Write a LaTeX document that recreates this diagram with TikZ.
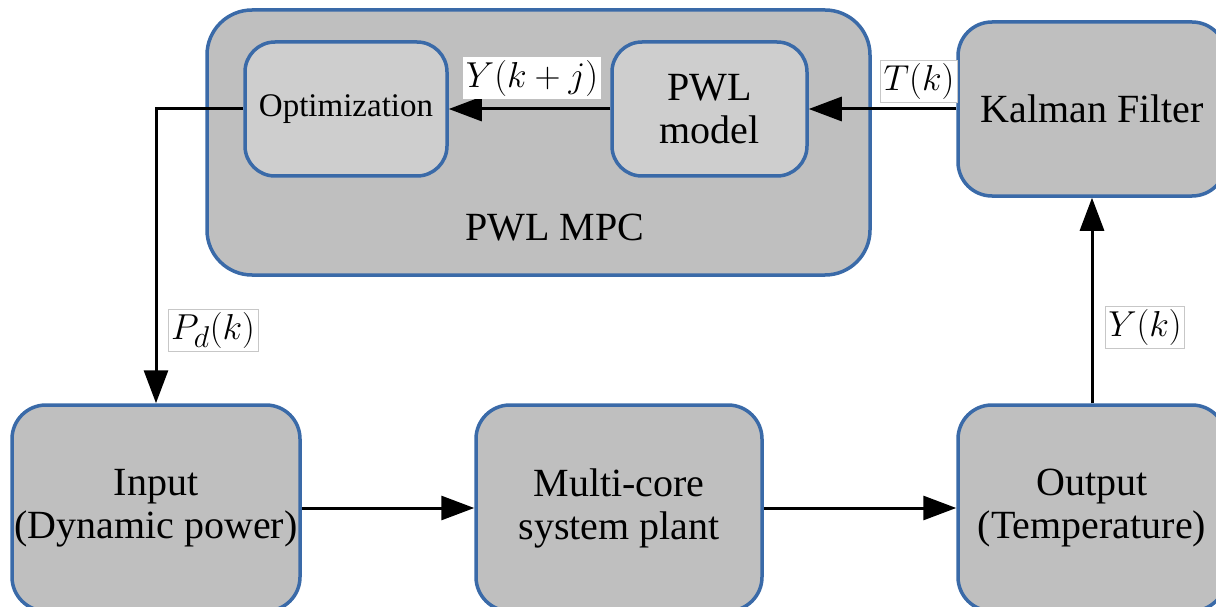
\documentclass[tikz,border=0pt]{standalone}
\usepackage{fontspec}
\setmainfont{LiberationSerif}[Extension=.ttf, UprightFont=*-Regular, ItalicFont=*-Italic, BoldFont=*-Bold]
\newfontfamily\tnr{LiberationSerif}[Extension=.ttf, UprightFont=*-Regular]
\usetikzlibrary{arrows.meta}
\definecolor{bord}{RGB}{58,106,168}
\definecolor{outfill}{RGB}{191,191,191}
\definecolor{infill}{RGB}{206,206,206}
\begin{document}
\begin{tikzpicture}[x=1pt,y=-1pt,
  blk/.style={draw=bord, line width=3.5pt, fill=outfill, rounded corners=34pt, align=center, inner sep=0pt, font=\tnr\fontsize{40}{43}\selectfont},
  inblk/.style={blk, fill=infill, rounded corners=30pt},
  conn/.style={line width=3pt, -{Triangle[length=33pt,width=24pt]}},
  lbl/.style={draw=black!22, line width=0.6pt, fill=white, inner sep=2pt, transform shape, scale=1.45, font=\fontsize{24.88}{28}\selectfont}]
\clip (0,0) rectangle (1216,607);
\fill[white] (0,0) rectangle (1216,607);

\node[blk, minimum width=663pt, minimum height=265pt, rounded corners=45pt] (mpc) at (538.5,142.5) {};
\node[font=\tnr\fontsize{40}{43}\selectfont] (mpclbl) at (555,228) {PWL MPC};
\node[inblk, minimum width=202pt, minimum height=134pt, font=\tnr\fontsize{33}{40}\selectfont] (opt) at (346,109) {Optimization};
\node[inblk, minimum width=195pt, minimum height=134pt] (pwl) at (709.5,109) {PWL\\model};
\node[blk, minimum width=268pt, minimum height=174pt] (kal) at (1092,109) {Kalman Filter};
\node[blk, minimum width=288pt, minimum height=206pt] (in) at (156,508) {Input\\(Dynamic power)};
\node[blk, minimum width=286pt, minimum height=206pt] (mc) at (619,508) {Multi-core\\system plant};
\node[blk, minimum width=268pt, minimum height=206pt] (out) at (1092,508) {Output\\(Temperature)};

\draw[conn] (opt.west) -| (in.north);
\draw[conn] (pwl.west) -- (opt.east);
\draw[conn] (kal.west) -- (pwl.east);
\draw[conn] (out.north) -- (kal.south);
\draw[conn] (in.east) -- (mc.west);
\draw[conn] (mc.east) -- (out.west);

\node[lbl, draw=none] (lyk) at (532,78) {$Y(k+j)$};
\node[lbl] (ltk) at (919,81) {$T(k)$};
\node[lbl] (lpd) at (213,330) {$P_d(k)$};
\node[lbl] (lyy) at (1145,327) {$Y(k)$};
\end{tikzpicture}
\end{document}
